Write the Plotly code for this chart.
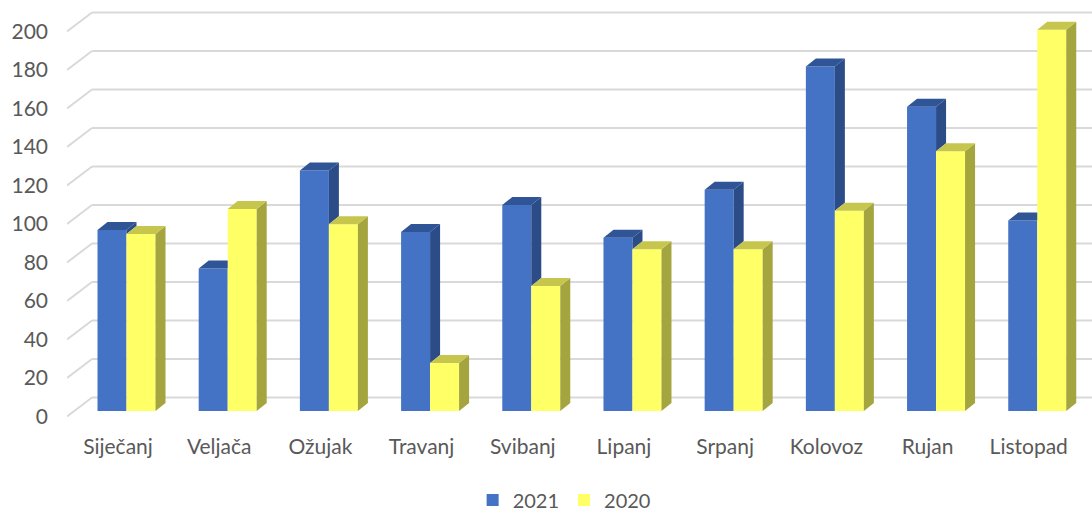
import plotly.graph_objects as go

# ---------------- data ----------------
categories = ["Siječanj", "Veljača", "Ožujak", "Travanj", "Svibanj",
              "Lipanj", "Srpanj", "Kolovoz", "Rujan", "Listopad"]
values_2021 = [94, 74, 125, 93, 107, 90, 115, 179, 158, 99]
values_2020 = [92, 105, 97, 25, 65, 84, 84, 104, 135, 198]
series_names = ["2021", "2020"]
y_ticks = [0, 20, 40, 60, 80, 100, 120, 140, 160, 180, 200]

# ---------------- styling / geometry ----------------
W, H = 1092, 514
M_L, M_R, M_T, M_B = 67, 0, 5, 94
X_RANGE = [-0.504, 9.625]
Y_RANGE = [-1.818, 213.77]
PW, PH = W - M_L - M_R, H - M_T - M_B
KX = PW / (X_RANGE[1] - X_RANGE[0])   # px per x unit
KY = PH / (Y_RANGE[1] - Y_RANGE[0])   # px per y unit

WALL_DX, WALL_DY = 25 / KX, 19 / KY        # front edge -> back wall
PLANE_DX, PLANE_DY = 8.5 / KX, 5.5 / KY    # front edge -> bar front plane
BAR_W = 29 / KX
DEP_DX, DEP_DY = 10 / KX, 8 / KY           # bar depth

FRONT = ["#4472C4", "#FFFF66"]
TOP = ["#2F5597", "#C6C64E"]
SIDE = ["#2B4C86", "#A5A53F"]
GRID = "#D9D9D9"
TXT = "#595959"
FONT = "Lato"

fig = go.Figure()

series = [values_2021, values_2020]
x_pos = []
for s in range(2):
    xs = [i + PLANE_DX + (s - 0.5) * BAR_W for i in range(len(categories))]
    x_pos.append(xs)
    fig.add_trace(go.Bar(
        x=xs, y=series[s], base=PLANE_DY, width=BAR_W,
        name=series_names[s], marker=dict(color=FRONT[s], line=dict(width=0)),
        hoverinfo="y+name"))

# 3D faces (computed from the values)
for s in range(2):
    top_x, top_y, side_x, side_y = [], [], [], []
    for i in range(len(categories)):
        xc = x_pos[s][i]
        x0, x1 = xc - BAR_W / 2, xc + BAR_W / 2
        v = PLANE_DY + series[s][i]
        if s == 0:
            other = PLANE_DY + series[1][i]
            if v > other:
                top_x += [x0, x1, x1 + DEP_DX, x0 + DEP_DX, x0, None]
                top_y += [v, v, v + DEP_DY, v + DEP_DY, v, None]
                side_x += [x1, x1, x1 + DEP_DX, x1 + DEP_DX, x1, None]
                side_y += [other, v, v + DEP_DY, other + DEP_DY, other, None]
            else:
                top_x += [x0, x1, x1, x0 + DEP_DX, x0, None]
                top_y += [v, v, v + DEP_DY, v + DEP_DY, v, None]
        else:
            b = PLANE_DY
            top_x += [x0, x1, x1 + DEP_DX, x0 + DEP_DX, x0, None]
            top_y += [v, v, v + DEP_DY, v + DEP_DY, v, None]
            side_x += [x1, x1, x1 + DEP_DX, x1 + DEP_DX, x1, None]
            side_y += [b, v, v + DEP_DY, b + DEP_DY, b, None]
    for fx, fy, col in [(side_x, side_y, SIDE[s]), (top_x, top_y, TOP[s])]:
        if fx:
            fig.add_trace(go.Scatter(
                x=fx, y=fy, mode="lines", fill="toself", fillcolor=col,
                line=dict(width=0, color=col), showlegend=False,
                hoverinfo="skip", cliponaxis=False))

# gridlines: slanted side-wall segment + back wall line
shapes = []
for v in y_ticks:
    xa, xb = X_RANGE[0], X_RANGE[0] + WALL_DX
    shapes.append(dict(type="line", xref="x", yref="y", layer="below",
                       x0=xa, y0=v, x1=xb, y1=v + WALL_DY,
                       line=dict(color=GRID, width=2)))
    shapes.append(dict(type="line", xref="x", yref="y", layer="below",
                       x0=xb, y0=v + WALL_DY, x1=X_RANGE[1], y1=v + WALL_DY,
                       line=dict(color=GRID, width=2)))

fig.update_layout(
    width=W, height=H,
    margin=dict(l=M_L, r=M_R, t=M_T, b=M_B, autoexpand=False),
    plot_bgcolor="white", paper_bgcolor="white",
    barmode="overlay",
    shapes=shapes,
    font=dict(family=FONT, color=TXT, size=21),
    xaxis=dict(range=X_RANGE, tickvals=list(range(len(categories))),
               ticktext=categories, showgrid=False, zeroline=False,
               showline=False, ticks="", ticklabelstandoff=12,
               automargin=False, tickfont=dict(size=21, color=TXT)),
    yaxis=dict(range=Y_RANGE, tickvals=y_ticks, showgrid=False,
               zeroline=False, showline=False, ticks="",
               ticklabelstandoff=18, automargin=False,
               tickfont=dict(size=21, color=TXT)),
    legend=dict(orientation="h", x=0.485, xanchor="center", y=-0.193,
                yanchor="middle", font=dict(size=20, color=TXT),
                traceorder="normal", itemwidth=30),
    showlegend=True,
)

fig.write_html("out.html",
               config={"displayModeBar": False},
               post_script="document.body.style.margin='0px';"
                           "document.body.style.overflow='hidden';")
